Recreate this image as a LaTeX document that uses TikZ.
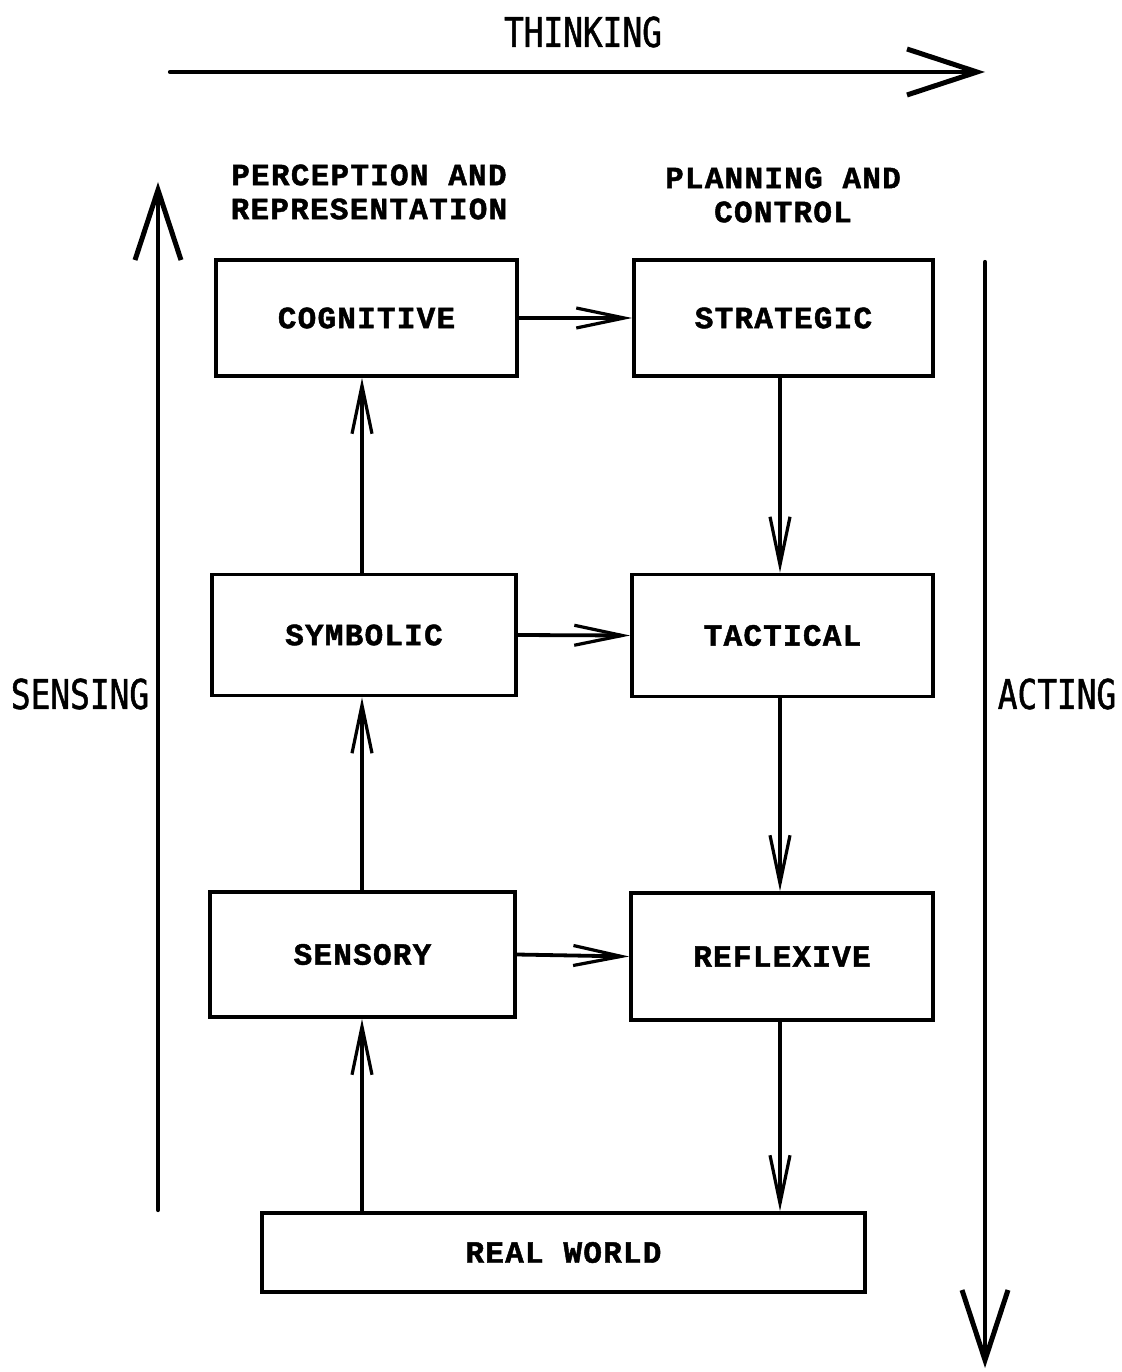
\documentclass[tikz,border=0pt]{standalone}
\usepackage{fontspec}
\usetikzlibrary{arrows.meta}
\newfontfamily\boxfont[FakeBold=1.5,LetterSpace=4]{Liberation Mono Bold}
\newfontfamily\plotfont[FakeStretch=0.80,FakeBold=1.2]{DejaVu Sans Mono}
\begin{document}
\begin{tikzpicture}[x=1pt,y=-1pt,
  lw/.style={line width=3.8pt},
  blk/.style={draw,lw,rectangle,inner sep=0pt,font=\boxfont\fontsize{31}{36}\selectfont},
  hdr/.style={align=center,inner sep=0pt,font=\boxfont\fontsize{31}{34}\selectfont},
  big/.style={inner sep=0pt,font=\plotfont\fontsize{41}{44}\selectfont},
  arr/.style={lw,-{Straight Barb[length=48pt,width=20pt,line width=3.2pt]}},
  bigarr/.style={lw,line width=4.2pt,line cap=round,-{Straight Barb[length=70pt,width=46pt,line width=5pt]}}]
\useasboundingbox (0,0) rectangle (1121,1372);
% headings
\node[big] (thinking) at (583,32) {THINKING};
\node[big] (sensing) at (80,694) {SENSING};
\node[big] (acting) at (1057,694) {ACTING};
\node[hdr] (perc) at (369,192) {PERCEPTION AND\\REPRESENTATION};
\node[hdr] (plan) at (783,195) {PLANNING AND\\CONTROL};
% boxes
\node[blk,minimum width=301pt,minimum height=116pt] (cog) at (366.5,318) {COGNITIVE};
\node[blk,minimum width=299pt,minimum height=116pt] (strat) at (783.5,318) {STRATEGIC};
\node[blk,minimum width=304pt,minimum height=121pt] (sym) at (364,635) {SYMBOLIC};
\node[blk,minimum width=301pt,minimum height=122pt] (tact) at (782.5,635.5) {TACTICAL};
\node[blk,minimum width=305pt,minimum height=125pt] (sens) at (362.5,954.5) {SENSORY};
\node[blk,minimum width=302pt,minimum height=127pt] (refl) at (782,956.5) {REFLEXIVE};
\node[blk,minimum width=603pt,minimum height=79pt] (real) at (563.5,1252.5) {REAL WORLD};
% column coordinates
\coordinate (lc) at (362,0);
\coordinate (rc) at (780,0);
% horizontal arrows
\draw[arr] (cog.east) -- (strat.west);
\draw[arr] (sym.east) -- (tact.west);
\draw[arr] (sens.east) -- (refl.west);
% left column (upwards)
\draw[arr] (real.north -| lc) -- (sens.south -| lc);
\draw[arr] (sens.north -| lc) -- (sym.south -| lc);
\draw[arr] (sym.north -| lc) -- (cog.south -| lc);
% right column (downwards)
\draw[arr] (strat.south -| rc) -- (tact.north -| rc);
\draw[arr] (tact.south -| rc) -- (refl.north -| rc);
\draw[arr] (refl.south -| rc) -- (real.north -| rc);
% big arrows
\coordinate (t0) at (170,72);
\coordinate (t1) at (985,72);
\coordinate (s0) at (158,1210);
\coordinate (s1) at (158,182);
\coordinate (a0) at (985,262);
\coordinate (a1) at (985,1368);
\draw[bigarr] (t0) -- (t1);
\draw[bigarr] (s0) -- (s1);
\draw[bigarr] (a0) -- (a1);
\end{tikzpicture}
\end{document}
